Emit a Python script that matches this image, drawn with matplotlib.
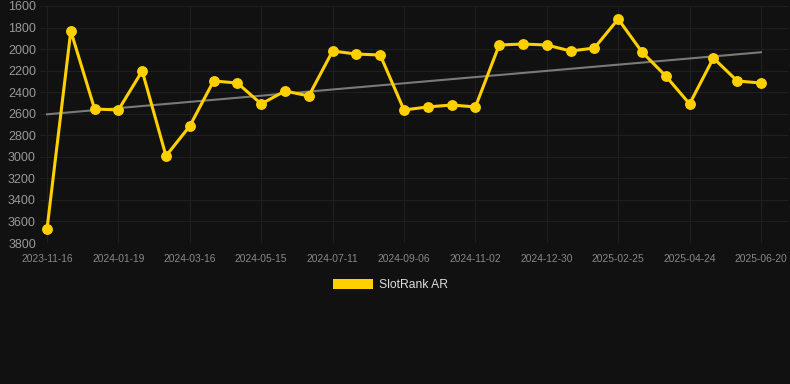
import matplotlib
matplotlib.use("Agg")
import matplotlib.pyplot as plt
import numpy as np

plt.rcParams["font.family"] = ["Liberation Sans", "DejaVu Sans"]

# Data (rank values, lower = better; y axis inverted)
rank_values = [3670, 1832, 2556, 2565, 2203, 2992, 2714, 2296, 2315, 2509,
               2389, 2435, 2018, 2046, 2055, 2565, 2537, 2519, 2537, 1962,
               1953, 1962, 2018, 1990, 1721, 2027, 2250, 2509, 2083, 2296,
               2315]
tick_labels = ["2023-11-16", "2024-01-19", "2024-03-16", "2024-05-15",
               "2024-07-11", "2024-09-06", "2024-11-02", "2024-12-30",
               "2025-02-25", "2025-04-24", "2025-06-20"]
series_name = "SlotRank AR"
y_ticks = list(range(1600, 3801, 200))

W, H = 790, 384
fig = plt.figure(figsize=(W / 100, H / 100), dpi=100)
fig.patch.set_facecolor("#111111")

left, right, top, bottom = 40, 788, 6, 243
ax = fig.add_axes([left / W, 1 - bottom / H, (right - left) / W, (bottom - top) / H])
ax.set_facecolor("#111111")

x = np.arange(len(rank_values))
y = np.array(rank_values, dtype=float)

# trend line (linear regression)
coef = np.polyfit(x, y, 1)
ax.plot(x, np.polyval(coef, x), color="#7a7a7a", lw=1.5, zorder=2)

ax.plot(x, y, color="#FFD000", lw=2.2, marker="o", markersize=6.8,
        markerfacecolor="#FFD000", markeredgecolor="#FFD000", zorder=3,
        label=series_name)

step = 23.8
ax.set_xlim(-7 / step, 30 + 27 / step)
ax.set_ylim(3800, 1600)
ax.set_yticks(y_ticks)
ax.set_xticks(x[::3])
ax.set_xticklabels(tick_labels)

ax.grid(True, color="#1f1f1f", lw=0.8)
ax.set_axisbelow(True)
for s in ax.spines.values():
    s.set_visible(False)
ax.tick_params(axis="y", colors="#999999", labelsize=9, length=0, pad=3)
ax.tick_params(axis="x", colors="#888888", labelsize=7.4, length=0, pad=8)

# legend
lx0, lx1, ly0, ly1 = 333, 373, 279, 289
fig.patches.append(plt.Rectangle((lx0 / W, 1 - ly1 / H), (lx1 - lx0) / W,
                                 (ly1 - ly0) / H, transform=fig.transFigure,
                                 facecolor="#FFD000", edgecolor="none"))
fig.text(379 / W, 1 - 284.5 / H, series_name, color="#dddddd", fontsize=8.7,
         va="center", ha="left")

fig.savefig("out.png", dpi=100, facecolor=fig.get_facecolor())
